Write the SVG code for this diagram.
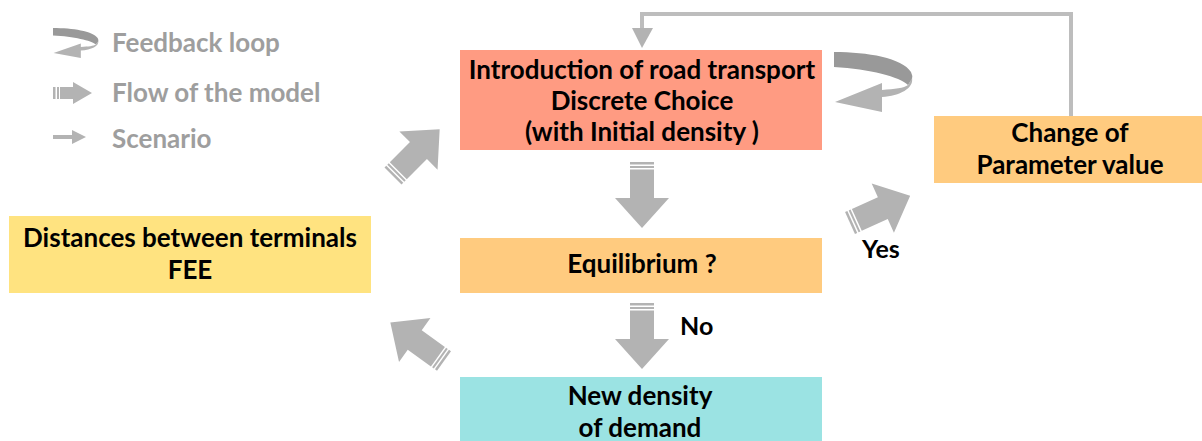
<svg xmlns="http://www.w3.org/2000/svg" xmlns:xlink="http://www.w3.org/1999/xlink" width="1202" height="441" viewBox="0 0 1202 441">
  <style>
    .t { font-family: Lato, "Liberation Sans", sans-serif; font-weight: bold; font-size: 26px; fill: #000; text-anchor: middle; }
    .lg { font-family: Lato, "Liberation Sans", sans-serif; font-weight: bold; font-size: 26px; fill: #9E9E9E; }
    .lbl { font-family: Lato, "Liberation Sans", sans-serif; font-weight: bold; font-size: 25px; fill: #000; }
    .blk { fill: #B3B3B3; }
    .dark { fill: #999999; }
    .thin { fill: none; stroke: #BDBDBD; stroke-width: 4; }
  </style>
  <defs>
    <g id="blockArrow">
      <rect class="blk" x="0" y="-12" width="2.5" height="24"/>
      <rect class="blk" x="4" y="-12" width="2" height="24"/>
      <polygon class="blk" points="7.5,-12 36,-12 36,-27 66,0 36,27 36,12 7.5,12"/>
    </g>
    <g id="loopArrow">
      <path class="dark" d="M834,52 C868,52 902,58 911,72 Q913,76 912,79 L908,85 C900,77 870,69 834,67 Z"/>
      <path class="blk" d="M912,78 C914,88 900,96 882,97 L882,112 L835,102 L882,83 L882,90 C895,89 904,88 908,85 Z"/>
    </g>
  </defs>

  <!-- Legend -->
  <g id="legend">
    <use xlink:href="#loopArrow" transform="translate(53,28) scale(0.58,0.5) translate(-834,-52)"/>
    <text class="lg" x="112" y="52">Feedback loop</text>
    <rect class="blk" x="53" y="87" width="2.5" height="12"/>
    <rect class="blk" x="57" y="87" width="2" height="12"/>
    <polygon class="blk" points="60,87 73,87 73,82 92,93 73,104 73,99 60,99"/>
    <text class="lg" x="112" y="102">Flow of the model</text>
    <line x1="53" y1="137" x2="74" y2="137" stroke="#B3B3B3" stroke-width="4"/>
    <polygon class="blk" points="72,130 86,137 72,144"/>
    <text class="lg" x="112" y="148">Scenario</text>
  </g>

  <!-- Nodes -->
  <g id="node-intro">
    <rect x="460" y="50" width="362" height="100" fill="#FF9B82"/>
    <text class="t" x="642" y="79">Introduction of road transport</text>
    <text class="t" x="642" y="110">Discrete Choice</text>
    <text class="t" x="642" y="141">(with Initial density )</text>
  </g>
  <g id="node-change">
    <rect x="934" y="116" width="268" height="67" fill="#FFCB7F"/>
    <text class="t" x="1070" y="142">Change of</text>
    <text class="t" x="1070" y="174">Parameter value</text>
  </g>
  <g id="node-distances">
    <rect x="9" y="216" width="362" height="77" fill="#FFE380"/>
    <text class="t" x="190" y="247">Distances between terminals</text>
    <text class="t" x="190" y="279">FEE</text>
  </g>
  <g id="node-equilibrium">
    <rect x="460" y="238" width="362" height="55" fill="#FFCB7F"/>
    <text class="t" x="642" y="273">Equilibrium ?</text>
  </g>
  <g id="node-newdensity">
    <rect x="460" y="377" width="362" height="64" fill="#9BE3E3"/>
    <text class="t" x="640" y="405">New density</text>
    <text class="t" x="640" y="437">of demand</text>
  </g>

  <!-- Connectors -->
  <g id="connectors">
    <use xlink:href="#blockArrow" transform="translate(642,162) rotate(90)"/>
    <use xlink:href="#blockArrow" transform="translate(642,303) rotate(90)"/>
    <use xlink:href="#blockArrow" transform="translate(393,176) rotate(-45)"/>
    <use xlink:href="#blockArrow" transform="translate(444,361) rotate(-144.4)"/>
    <use xlink:href="#blockArrow" transform="translate(850,223) rotate(-24.3)"/>
    <use xlink:href="#loopArrow"/>
    <polyline class="thin" points="1071,116 1071,14 642,14 642,30"/>
    <polygon fill="#B3B3B3" points="632,28 653,28 642,48"/>
    <text class="lbl" x="862" y="258">Yes</text>
    <text class="lbl" x="680" y="335">No</text>
  </g>
</svg>
